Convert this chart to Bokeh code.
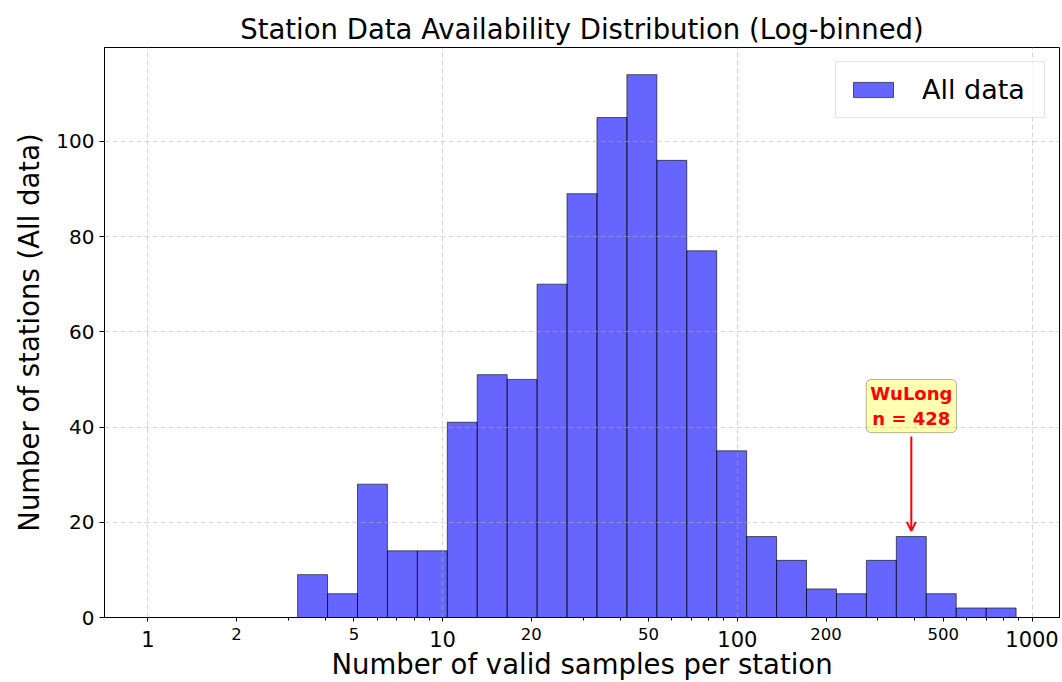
import numpy as np
from bokeh.plotting import figure
from bokeh.models import (ColumnDataSource, FixedTicker, NumeralTickFormatter,
                          Label, Arrow, OpenHead, Range1d, LogAxis)
from bokeh.embed import file_html
from bokeh.resources import INLINE

# ---------------- data ----------------
title_text = "Station Data Availability Distribution (Log-binned)"
x_label = "Number of valid samples per station"
y_label = "Number of stations (All data)"
series_name = "All data"
max_samples = 883          # largest sample count (upper bin edge)
n_bins = 29                # log-spaced bins from 1 to max_samples
counts = [0, 0, 0, 0, 0, 9, 5, 28, 14, 14, 41, 51, 50, 70, 89, 105, 114, 96,
          77, 35, 17, 12, 6, 5, 12, 17, 5, 2, 2]
major_ticks = [1, 10, 100, 1000]
minor_tick_labels = [2, 5, 20, 50, 200, 500]
y_ticks = [0, 20, 40, 60, 80, 100]
highlight_station = "WuLong"
highlight_n = 428

FONT = "DejaVu Sans"
W, H = 1062, 682
LEFT, RIGHT, TOP, BOTTOM = 104, 3, 47, 60

# ---------------- derived ----------------
edges = np.logspace(0, np.log10(max_samples), n_bins + 1)
counts_arr = np.array(counts)
mask = counts_arr > 0
src = ColumnDataSource(dict(left=edges[:-1][mask], right=edges[1:][mask],
                            top=counts_arr[mask]))

L = np.log10(max_samples)
x_range = Range1d(10 ** (-0.05 * L), 10 ** (1.05 * L))
y_range = Range1d(0, max(counts) * 1.05)

p = figure(width=W, height=H, x_axis_type="log", x_range=x_range,
           y_range=y_range, output_backend="svg", toolbar_location=None,
           title=title_text)
p.min_border_left = LEFT
p.min_border_right = RIGHT
p.min_border_top = TOP
p.min_border_bottom = BOTTOM
p.background_fill_color = "white"
p.border_fill_color = "white"
p.outline_line_color = "black"
p.outline_line_width = 1
p.outline_line_alpha = 1

p.title.text_font = FONT
p.title.text_font_size = "27.5px"
p.title.text_font_style = "normal"
p.title.align = "center"
p.title.text_color = "black"
p.title.standoff = 5

p.quad(left="left", right="right", top="top", bottom=0, source=src,
       fill_color="blue", fill_alpha=0.6, line_color="black", line_alpha=0.6,
       line_width=1, legend_label=series_name)

# x axis 1 (next to the frame): tick marks + small labels at 2, 5, 20, ...
minor = [m * 10 ** k for k in range(0, 3) for m in range(2, 10)]
xa = p.xaxis[0]
xa.ticker = FixedTicker(ticks=sorted(major_ticks + minor_tick_labels),
                        minor_ticks=minor)
xa.formatter = NumeralTickFormatter(format="0")
xa.major_label_overrides = {t: "" for t in major_ticks}
xa.major_label_text_font = FONT
xa.major_label_text_font_size = "16.5px"
xa.major_label_text_color = "black"
xa.major_tick_in = 0
xa.major_tick_out = 4
xa.minor_tick_in = 0
xa.minor_tick_out = 3
xa.major_label_standoff = 6
xa.axis_line_color = "black"

# x axis 2: large labels at the decades + axis title, pulled up alongside
xb = LogAxis(ticker=FixedTicker(ticks=major_ticks, minor_ticks=[]),
             formatter=NumeralTickFormatter(format="0"),
             major_tick_in=0, major_tick_out=0,
             minor_tick_in=0, minor_tick_out=0,
             axis_line_color=None, major_label_standoff=-12,
             major_label_text_font=FONT, major_label_text_font_size="21px",
             major_label_text_color="black",
             axis_label=x_label, axis_label_text_font=FONT,
             axis_label_text_font_size="27.5px",
             axis_label_text_font_style="normal",
             axis_label_text_color="black", axis_label_standoff=-2)
p.add_layout(xb, "below")

# y axis
ya = p.yaxis[0]
ya.ticker = FixedTicker(ticks=y_ticks)
ya.major_label_text_font = FONT
ya.major_label_text_font_size = "20px"
ya.major_label_text_color = "black"
ya.major_tick_in = 0
ya.major_tick_out = 5
ya.minor_tick_out = 0
ya.minor_tick_in = 0
ya.major_label_standoff = 5
ya.axis_label = y_label
ya.axis_label_text_font = FONT
ya.axis_label_text_font_size = "27.5px"
ya.axis_label_text_font_style = "normal"
ya.axis_label_text_color = "black"
ya.axis_label_standoff = 8
ya.axis_line_color = "black"

# grids (only at the decades / y ticks)
p.xgrid[0].ticker = FixedTicker(ticks=major_ticks)
for g in (p.xgrid[0], p.ygrid[0]):
    g.grid_line_color = "#b0b0b0"
    g.grid_line_alpha = 0.5
    g.grid_line_dash = "5 3"
    g.grid_line_width = 1
    g.level = "guide"

# highlight annotation
idx = int(np.searchsorted(edges, highlight_n) - 1)
cx = np.sqrt(edges[idx] * edges[idx + 1])
cnt = counts[idx]
p.add_layout(Arrow(end=OpenHead(size=9, line_color="red", line_width=2),
                   x_start=cx, y_start=cnt + 21, x_end=cx, y_end=cnt + 1.2,
                   line_color="red", line_width=2))
p.add_layout(Label(x=cx, y=cnt + 27.4,
                   text=f"{highlight_station}\nn = {highlight_n}",
                   text_align="center", text_baseline="middle",
                   text_color="red", text_font_style="bold",
                   text_font_size="18px", text_font=FONT,
                   text_line_height=1.15,
                   background_fill_color="yellow", background_fill_alpha=0.3,
                   border_line_color="black", border_line_alpha=0.3,
                   padding=4, border_radius=5))

# legend
lg = p.legend[0]
lg.location = "top_right"
lg.margin = 14
lg.padding = 12
lg.spacing = 0
lg.glyph_width = 50
lg.glyph_height = 19
lg.label_standoff = 24
lg.label_width = 110
lg.label_text_font = FONT
lg.label_text_font_size = "27px"
lg.label_text_color = "black"
lg.border_line_color = "#cccccc"
lg.border_line_width = 1
lg.background_fill_alpha = 0.8

open("out.html", "w").write(file_html(p, INLINE))
